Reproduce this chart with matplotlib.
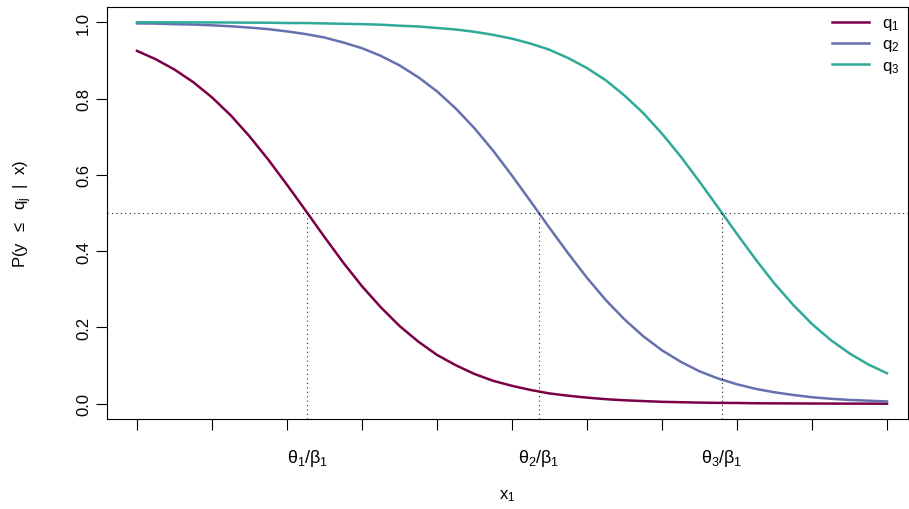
import matplotlib
matplotlib.use("Agg")
import matplotlib.pyplot as plt

plt.rcParams["font.family"] = ["Liberation Sans", "DejaVu Sans"]
plt.rcParams["mathtext.fontset"] = "custom"
plt.rcParams["mathtext.rm"] = "Liberation Sans"
plt.rcParams["mathtext.it"] = "Liberation Sans"

x = [0, 0.25, 0.5, 0.75, 1, 1.25, 1.5, 1.75, 2, 2.25, 2.5, 2.75, 3, 3.25, 3.5, 3.75,
     4, 4.25, 4.5, 4.75, 5, 5.25, 5.5, 5.75, 6, 6.25, 6.5, 6.75, 7, 7.25, 7.5, 7.75,
     8, 8.25, 8.5, 8.75, 9, 9.25, 9.5, 9.75, 10]
q1 = [0.925, 0.903, 0.876, 0.843, 0.803, 0.756, 0.701, 0.640, 0.574, 0.506, 0.437,
      0.370, 0.308, 0.253, 0.204, 0.163, 0.128, 0.101, 0.078, 0.060, 0.047, 0.036,
      0.027, 0.021, 0.016, 0.012, 0.009, 0.007, 0.005, 0.004, 0.003, 0.0023, 0.002,
      0.0013, 0.001, 0.0008, 0.0006, 0.0004, 0.0003, 0.0002, 0.0002]
q2 = [0.997, 0.9965, 0.995, 0.994, 0.992, 0.9895, 0.986, 0.982, 0.976, 0.969, 0.960,
      0.947, 0.932, 0.912, 0.887, 0.856, 0.819, 0.774, 0.722, 0.663, 0.598, 0.530,
      0.461, 0.394, 0.330, 0.272, 0.221, 0.177, 0.140, 0.110, 0.085, 0.066, 0.051,
      0.039, 0.030, 0.023, 0.017, 0.013, 0.010, 0.008, 0.006]
q3 = [1.000, 0.9998, 0.9997, 0.9996, 0.9995, 0.9993, 0.999, 0.9988, 0.998, 0.998,
      0.997, 0.996, 0.995, 0.9936, 0.991, 0.989, 0.985, 0.981, 0.975, 0.967, 0.957,
      0.944, 0.928, 0.906, 0.880, 0.848, 0.808, 0.762, 0.708, 0.648, 0.582, 0.514,
      0.445, 0.378, 0.315, 0.259, 0.209, 0.167, 0.132, 0.103, 0.080]
thresholds = [2.27, 5.36, 7.8]
threshold_labels = [r"$\theta_1/\beta_1$", r"$\theta_2/\beta_1$", r"$\theta_3/\beta_1$"]
colors = ["#7B0046", "#6670AE", "#2FAA98"]

fig = plt.figure(figsize=(9.09, 5.10), dpi=100)
ax = fig.add_axes([107 / 909, 90 / 510, 801 / 909, 412 / 510])
for values, color, name in zip([q1, q2, q3], colors, [r"q$_1$", r"q$_2$", r"q$_3$"]):
    ax.plot(x, values, color=color, lw=1.8, label=name)

ax.axhline(0.5, color="#222222", ls=(0, (1, 3)), lw=0.8)
for t in thresholds:
    ax.plot([t, t], [-0.04, 0.5], color="#222222", ls=(0, (1, 3)), lw=0.8)

ax.set_xlim(-0.4, 10.28)
ax.set_ylim(-0.04, 1.04)
ax.set_xticks(range(11))
ax.set_xticklabels([])
ax.tick_params(axis="x", length=8, direction="out")
for t, lab in zip(thresholds, threshold_labels):
    ax.text(t, -0.14, lab, ha="center", va="center", fontsize=13)
ax.set_yticks([0, 0.2, 0.4, 0.6, 0.8, 1.0])
ax.set_yticklabels(["0.0", "0.2", "0.4", "0.6", "0.8", "1.0"], rotation=90, va="center", fontsize=12)
ax.tick_params(axis="y", length=8)
ax.set_xlabel(r"x$_1$", fontsize=12, labelpad=38)
ax.set_ylabel(r"P(y  $\leq$  q$_\mathrm{j}$  |  x)", fontsize=12, labelpad=30)
ax.legend(loc="upper right", frameon=False, fontsize=12, handlelength=2.2,
          borderaxespad=0.1, labelspacing=0.25, handletextpad=0.8)
fig.savefig("out.png", dpi=100)
